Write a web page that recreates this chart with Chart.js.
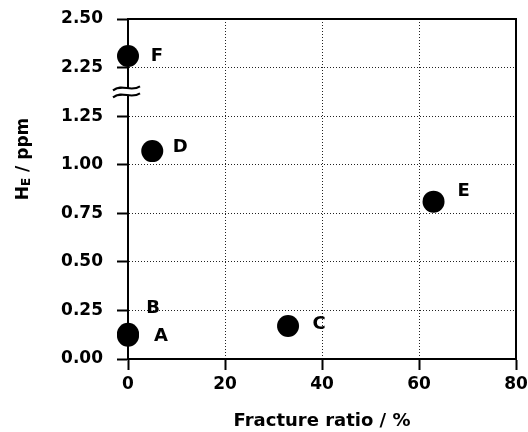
<!DOCTYPE html>
<html><head><meta charset="utf-8">
<script src="https://cdn.jsdelivr.net/npm/chart.js@4/dist/chart.umd.min.js"></script>
<style>html,body{margin:0;padding:0;background:#fff}#wrap{width:528px;height:432px}</style>
</head><body><div id="wrap"><canvas id="c"></canvas></div>
<script>
const specimens = ['A', 'B', 'C', 'D', 'E', 'F'];
const fractureRatio = [0, 0, 33, 5, 63, 0];
const hydrogenPpm = [0.12, 0.13, 0.17, 1.07, 0.81, 2.31];
const yTickLabels = ['0.00', '0.25', '0.50', '0.75', '1.00', '1.25', '2.25', '2.50'];
const xTickStep = 20;
const BREAK_LOW = 1.5, BREAK_HIGH = 2.25;
const toAxis = v => v >= BREAK_HIGH ? v - (BREAK_HIGH - BREAK_LOW) : v;

const FONT = 'DejaVu Sans';
Chart.defaults.font.family = FONT;
Chart.defaults.font.weight = 'bold';
Chart.defaults.font.size = 17;
Chart.defaults.color = '#000';

const labelOffsets = [[33, 1], [25, -25], [31, -2], [28, -4], [30, -10], [29, 0]];

const decor = {
  id: 'decor',
  afterDraw(chart) {
    const ctx = chart.ctx, a = chart.chartArea;
    ctx.save();
    ctx.strokeStyle = '#000'; ctx.lineWidth = 2;
    ctx.strokeRect(a.left, a.top, a.right - a.left, a.bottom - a.top);
    const y = chart.scales.y, by = y.getPixelForValue(1.375);
    ctx.fillStyle = '#fff';
    ctx.fillRect(a.left - 3, by - 3, 6, 6);
    ctx.lineWidth = 2;
    [-3.5, 3.5].forEach(d => {
      ctx.beginPath();
      ctx.moveTo(a.left - 15, by + d + 2);
      ctx.bezierCurveTo(a.left - 6, by + d - 5, a.left + 3, by + d + 4, a.left + 12, by + d - 2);
      ctx.stroke();
    });
    ctx.fillStyle = '#000';
    ctx.font = 'bold 18px ' + FONT;
    ctx.textAlign = 'center'; ctx.textBaseline = 'middle';
    const meta = chart.getDatasetMeta(0);
    meta.data.forEach((pt, i) => {
      ctx.fillText(specimens[i], pt.x + labelOffsets[i][0], pt.y + labelOffsets[i][1]);
    });
    ctx.translate(22, 159);
    ctx.rotate(-Math.PI / 2);
    ctx.textAlign = 'left'; ctx.textBaseline = 'alphabetic';
    const big = 'bold 17px ' + FONT, small = 'bold 12px ' + FONT;
    ctx.font = big; const wH = ctx.measureText('H').width, wR = ctx.measureText(' / ppm').width;
    ctx.font = small; const wE = ctx.measureText('E').width;
    let x = -(wH + wE + wR) / 2;
    ctx.font = big; ctx.fillText('H', x, 6); x += wH;
    ctx.font = small; ctx.fillText('E', x, 8); x += wE;
    ctx.font = big; ctx.fillText(' / ppm', x, 6);
    ctx.restore();
  }
};

const gridColor = last => c => (c.index === 0 || c.index === last) ? 'rgba(0,0,0,0)' : '#222';

new Chart(document.getElementById('c'), {
  type: 'scatter',
  data: {
    datasets: [{
      data: fractureRatio.map((f, i) => ({ x: f, y: toAxis(hydrogenPpm[i]) })),
      pointRadius: 11, pointHoverRadius: 11,
      backgroundColor: '#000', borderWidth: 0, clip: false
    }]
  },
  options: {
    responsive: true, maintainAspectRatio: false, animation: false,
    events: [],
    layout: { padding: { left: 0, top: 19, right: 12, bottom: 0 } },
    plugins: { legend: { display: false }, tooltip: { enabled: false } },
    scales: {
      x: {
        type: 'linear', min: 0, max: 80,
        ticks: { stepSize: xTickStep, padding: 4, font: { size: 17 } },
        grid: { color: gridColor(4), lineWidth: 1, tickLength: 11, tickColor: '#000', tickWidth: 2 },
        border: { color: '#000', width: 2, dash: [1, 2] },
        title: { display: true, text: 'Fracture ratio / %', font: { size: 18, weight: 'bold' }, padding: { top: 0, bottom: 0 } },
        afterFit: s => { s.height = 73; s.paddingLeft = 0; s.paddingRight = 0; }
      },
      y: {
        type: 'linear', min: 0, max: 1.75,
        ticks: { stepSize: 0.25, padding: 14, callback: (v, i) => yTickLabels[i] },
        grid: { color: gridColor(7), lineWidth: 1, tickLength: 11, tickColor: '#000', tickWidth: 2 },
        border: { color: '#000', width: 2, dash: [1, 2] },
        afterFit: s => { s.width = 128; s.paddingTop = 0; s.paddingBottom = 0; }
      }
    }
  },
  plugins: [decor]
});
</script>
</body></html>
